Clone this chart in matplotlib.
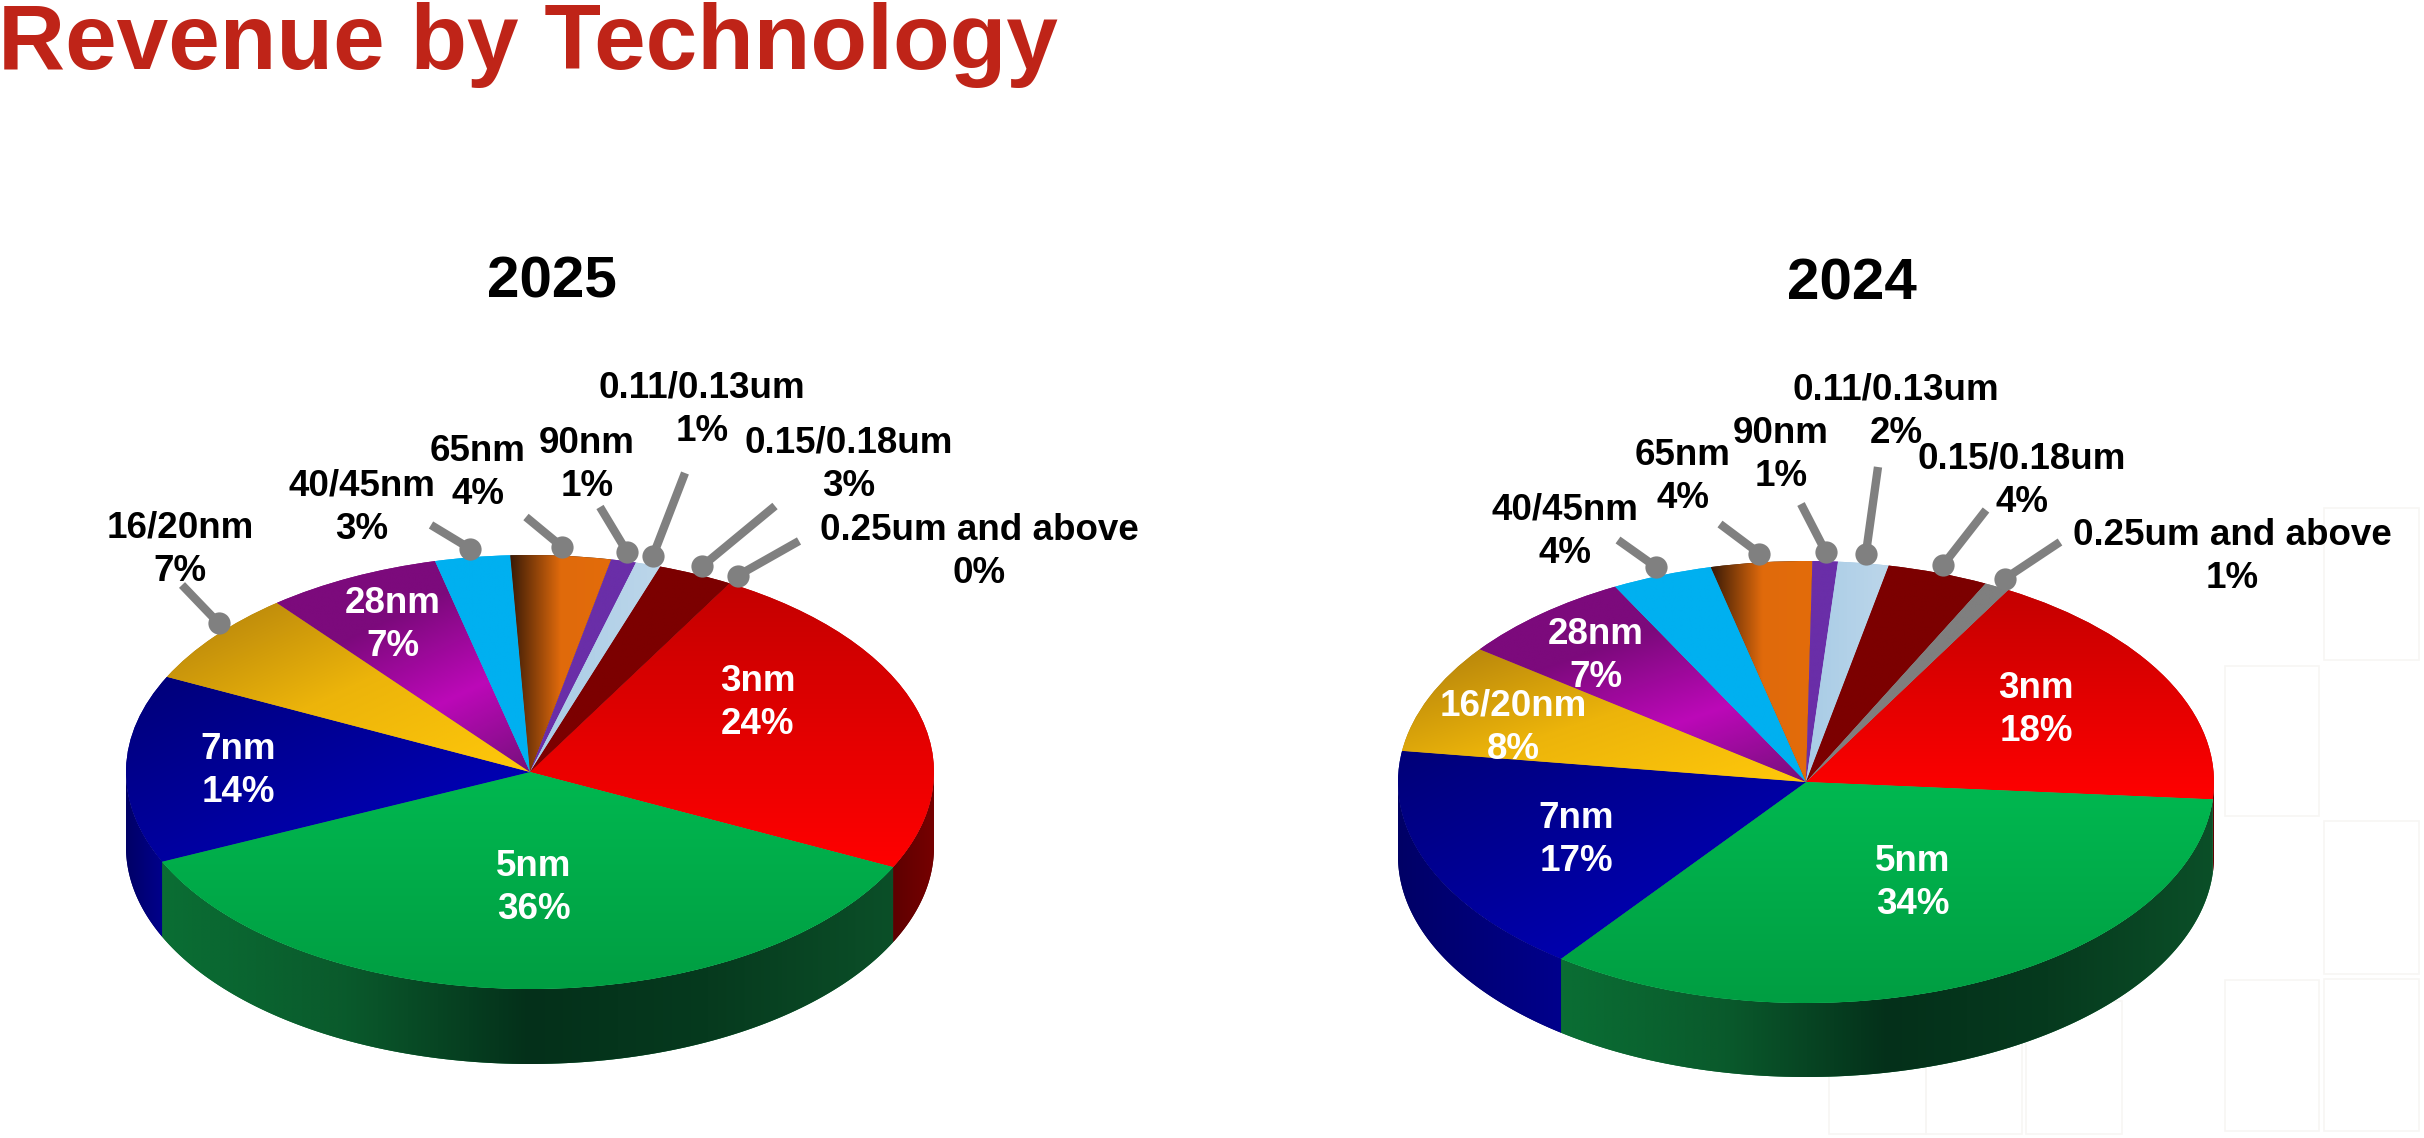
import numpy as np
import matplotlib
matplotlib.use('Agg')
import matplotlib.pyplot as plt
from matplotlib.colors import LinearSegmentedColormap
from matplotlib.patches import Rectangle
from matplotlib.transforms import Affine2D

W, H = 2424, 1138

nodes = ['3nm', '5nm', '7nm', '16/20nm', '28nm', '40/45nm', '65nm', '90nm',
         '0.11/0.13um', '0.15/0.18um', '0.25um and above']
share_2025 = [24, 36, 14, 7, 7, 3, 4, 1, 1, 3, 0]
share_2024 = [18, 34, 17, 8, 7, 4, 4, 1, 2, 4, 1]

# slice look: gradient direction in degrees, colour stops
top_styles = [
    (270, ['#c40000', '#ff0000']),
    (270, ['#00b850', '#009e42']),
    (315, ['#000078', '#0000c4']),
    (315, ['#b07f0c', '#ecb40a', '#ffc80a']),
    (300, ['#7c0a7c', '#7c0a7c', '#bc08b8', '#76107c']),
    (0, ['#00b0f0', '#00b0f0']),
    (0, ['#3a1a06', '#e06a0c', '#e36c0a']),
    (0, ['#6a2ea8', '#6a2ea8']),
    (0, ['#a8cce6', '#bcd6ea']),
    (0, ['#7c0000', '#7c0000']),
    (0, ['#7f7f7f', '#7f7f7f']),
]
wall_styles = {
    '3nm': ['#5e0000', '#760000'],
    '5nm': ['#0a6e34', '#0a5a2c', '#04301a', '#063a1e', '#0b4f28'],
    '7nm': ['#000066', '#00008c'],
}

# pie geometry in pixels of the final image
pie_2025 = dict(cx=530, cy=772, rx=404, ry=217, depth=75, start=60.4)
pie_2024 = dict(cx=1806, cy=782, rx=408, ry=221, depth=74, start=60.3)

label_pos_2025 = [(758, 703), (534, 888), (238, 771), (180, 550), (393, 625), (362, 508),
                  (478, 473), (587, 465), (702, 410), (849, 465), (979, 552)]
label_pos_2024 = [(2036, 710), (1913, 883), (1576, 840), (1513, 728), (1596, 656), (1565, 532),
                  (1683, 477), (1781, 455), (1896, 412), (2022, 481), (2232, 557)]
tails_2025 = [None, None, None, (182, 585), None, (431, 525), (526, 517), (600, 507),
              (685, 473), (775, 506), (799, 541)]
tails_2024 = [None, None, None, None, None, (1618, 540), (1720, 524), (1801, 504),
              (1878, 467), (1986, 510), (2060, 542)]
white_2025 = ['3nm', '5nm', '7nm', '28nm']
white_2024 = ['3nm', '5nm', '7nm', '28nm', '16/20nm']

ghost_boxes = [(2324, 508, 95, 152), (2225, 666, 94, 150), (2324, 821, 95, 153), (2225, 980, 94, 151),
               (2324, 979, 95, 152), (2026, 1001, 96, 133), (1926, 1001, 96, 133), (1829, 1001, 97, 133)]

plt.rcParams['font.family'] = ['Liberation Sans', 'DejaVu Sans']
fig = plt.figure(figsize=(W / 100, H / 100), dpi=100, facecolor='white')
# pixel coordinates with the origin top left
px = Affine2D().scale(1 / W, -1 / H).translate(0, 1) + fig.transFigure


def gradient_fill(ax, patch, direction, stops, zorder):
    box = patch.get_path().get_extents()
    xx, yy = np.meshgrid(np.linspace(0, 1, 128), np.linspace(1, 0, 128))
    a = np.deg2rad(direction)
    val = xx * np.cos(a) + yy * np.sin(a)
    val = (val - val.min()) / (val.max() - val.min())
    cmap = LinearSegmentedColormap.from_list('g', stops)
    im = ax.imshow(val, cmap=cmap, vmin=0, vmax=1, aspect='auto', interpolation='bilinear',
                   extent=(box.x0, box.x1, box.y0, box.y1), zorder=zorder)
    im.set_clip_path(patch)


def draw_pie(shares, geo, label_pos, tails, white):
    ax = fig.add_axes([0, 0, 1, 1])
    ax.patch.set_alpha(0)
    cx, cy, rx, ry = geo['cx'], geo['cy'], geo['rx'], geo['ry']
    wedges, _ = ax.pie(shares, startangle=geo['start'], counterclock=False, radius=1)
    drop = geo['depth'] / ry

    for name, wedge, (direction, stops) in zip(nodes, wedges, top_styles):
        wedge.set_facecolor(stops[0])
        wedge.set_edgecolor('none')
        wedge.set_zorder(3)
        if wedge.theta2 - wedge.theta1 > 0:
            gradient_fill(ax, wedge, direction, stops, 3.5)
        else:
            wedge.set_visible(False)

        # side wall, only the front half of the disc shows it
        if name in wall_styles:
            for k in (-360, 0, 360):
                lo = max(wedge.theta1, 180 + k)
                hi = min(wedge.theta2, 360 + k)
                if hi <= lo:
                    continue
                t = np.deg2rad(np.linspace(lo, hi, 120))
                xs = np.r_[np.cos(t), np.cos(t)[::-1]]
                ys = np.r_[np.sin(t), np.sin(t)[::-1] - drop]
                poly = ax.fill(xs, ys, color=wall_styles[name][0], lw=0, zorder=1)[0]
                gradient_fill(ax, poly, 0, wall_styles[name], 1.5)

    for name, share, wedge, pos, tail in zip(nodes, shares, wedges, label_pos, tails):
        color = 'white' if name in white else 'black'
        ax.text(pos[0], pos[1], '%s\n%d%%' % (name, share), transform=px, ha='center', va='center',
                fontsize=26.5, fontweight='bold', color=color, linespacing=1.3, zorder=6)
        if tail is not None:
            mid = np.deg2rad((wedge.theta1 + wedge.theta2) / 2)
            dot = [cx + 1.04 * rx * np.cos(mid), cy - 1.04 * ry * np.sin(mid)]
            if name == '16/20nm':
                # this leader ends off the middle of its slice
                dot = [dot[0] + 17, dot[1] - 8]
            ax.plot([tail[0], dot[0]], [tail[1], dot[1]], color='#808080', lw=6, transform=px,
                    solid_capstyle='butt', zorder=5)
            ax.plot([dot[0]], [dot[1]], 'o', color='#808080', ms=16, mew=0, transform=px, zorder=5)

    ax.set_aspect('auto')
    ax.set_xlim(-cx / rx, (W - cx) / rx)
    ax.set_ylim((cy - H) / ry, cy / ry)
    ax.axis('off')
    return ax


draw_pie(share_2025, pie_2025, label_pos_2025, tails_2025, white_2025)
draw_pie(share_2024, pie_2024, label_pos_2024, tails_2024, white_2024)

for x, y, w, h in ghost_boxes:
    fig.add_artist(Rectangle((x, y), w, h, transform=px, fill=False, ec='#f7f6f4', lw=1.2, zorder=-1))

fig.text(-2 / W, 1 - 69 / H, 'Revenue by Technology', fontsize=66.8, fontweight='bold',
         color='#bf2418', ha='left', va='baseline')
fig.text(552 / W, 1 - 283 / H, '2025', fontsize=42, fontweight='bold', ha='center', va='center')
fig.text(1852 / W, 1 - 285 / H, '2024', fontsize=42, fontweight='bold', ha='center', va='center')

fig.savefig('out.png', dpi=100, facecolor='white')
